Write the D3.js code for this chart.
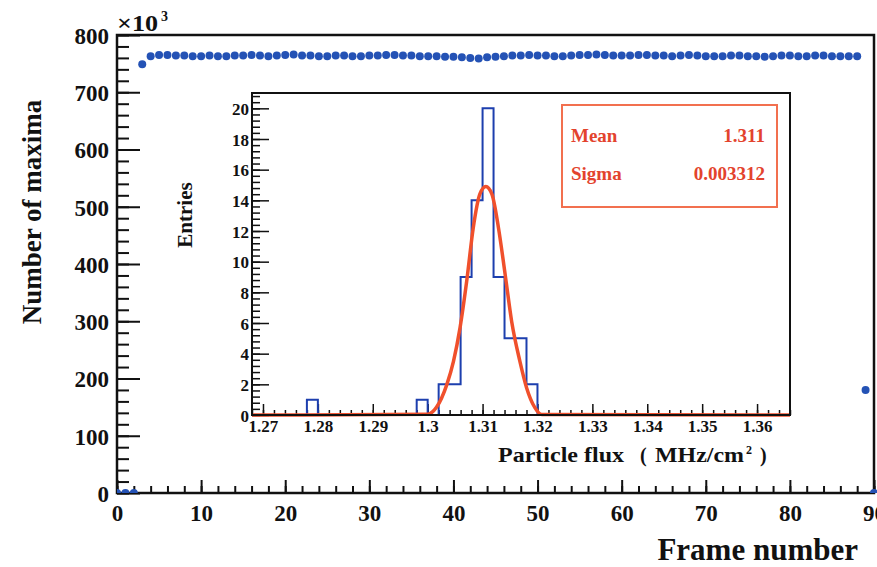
<!DOCTYPE html>
<html>
<head>
<meta charset="utf-8">
<script src="https://cdn.jsdelivr.net/npm/d3@7"></script>
<style>
  body { margin: 0; background: #fff; }
  svg text { font-family: "Liberation Serif", "Times New Roman", serif; font-weight: bold; fill: #111; }
</style>
</head>
<body>
<div id="chart"></div>
<script>
// Number of maxima per frame (x10^3), frames 0..90
var maxima = [0, 0, 0, 749,
    763, 765, 765, 764, 764, 763, 763, 764, 763, 763, 764, 764,
    765, 764, 763, 764, 765, 766, 764, 764, 763, 763, 764, 764,
    763, 763, 764, 764, 765, 765, 764, 764, 763, 763, 763, 762,
    762, 761, 760, 759, 761, 762, 763, 764, 764, 765, 764, 764,
    763, 763, 764, 765, 765, 766, 765, 764, 764, 764, 765, 765,
    764, 764, 763, 764, 765, 764, 763, 763, 763, 764, 764, 763,
    763, 762, 763, 764, 764, 763, 763, 764, 764, 763, 763, 763, 763,
    180, 0];
var mainXTicks = [0, 10, 20, 30, 40, 50, 60, 70, 80, 90];
var mainYTicks = [0, 100, 200, 300, 400, 500, 600, 700, 800];

// Inset histogram: particle flux (MHz/cm2)
var histLow = 1.268;
var histBinWidth = 0.002;
var entries = [0, 0, 0, 0, 0, 1, 0, 0, 0, 0, 0, 0, 0, 0, 0, 1, 0, 2, 2, 9,
    14, 20, 9, 5, 5, 2, 0, 0, 0, 0, 0, 0, 0, 0, 0, 0, 0, 0, 0, 0,
    0, 0, 0, 0, 0, 0, 0, 0, 0];
var insetXTicks = [1.27, 1.28, 1.29, 1.30, 1.31, 1.32, 1.33, 1.34, 1.35, 1.36];
var insetYTicks = [0, 2, 4, 6, 8, 10, 12, 14, 16, 18, 20];

// Gaussian fit curve
var fitX = [1.268, 1.300, 1.3016, 1.3035, 1.3047, 1.3059, 1.3071, 1.3083, 1.3095, 1.3106,
    1.3117, 1.3129, 1.3141, 1.3153, 1.3168, 1.3180, 1.3195, 1.3208, 1.366];
var fitY = [0, 0.05, 0.5, 2.0, 3.5, 5.7, 8.7, 12.2, 14.4, 14.9,
    14.4, 12.2, 9.2, 6.1, 3.5, 1.8, 0.5, 0.03, 0];

var statNames = ["Mean", "Sigma"];
var statValues = ["1.311", "0.003312"];

var svgWidth = 877;
var svgHeight = 567;

var svg = d3.select("#chart")
    .append("svg")
    .attr("width", svgWidth)
    .attr("height", svgHeight);

// ---------- main frame ----------
var main = { left: 117, right: 874, top: 35, bottom: 493 };

var x = d3.scaleLinear().domain([0, 90]).range([main.left, main.right]);
var y = d3.scaleLinear().domain([0, 800]).range([main.bottom, main.top]);

function minorTicks(lo, hi, step) {
    var out = [];
    for (var v = lo; v <= hi + 1e-9; v += step) out.push(+v.toFixed(6));
    return out;
}

// minor ticks
svg.append("g")
    .attr("transform", `translate(0, ${main.bottom})`)
    .call(d3.axisBottom(x).tickValues(minorTicks(0, 90, 2)).tickSize(-7).tickFormat(""))
    .call(g => g.select(".domain").remove())
    .selectAll("line").attr("stroke", "#111").attr("stroke-width", 2);

svg.append("g")
    .attr("transform", `translate(${main.left}, 0)`)
    .call(d3.axisLeft(y).tickValues(minorTicks(0, 800, 20)).tickSize(-12).tickFormat(""))
    .call(g => g.select(".domain").remove())
    .selectAll("line").attr("stroke", "#111").attr("stroke-width", 2);

// major ticks + labels
var xAxis = svg.append("g")
    .attr("transform", `translate(0, ${main.bottom})`)
    .call(d3.axisBottom(x).tickValues(mainXTicks).tickSize(-13).tickPadding(8).tickFormat(d3.format("d")));
xAxis.select(".domain").remove();
xAxis.selectAll("line").attr("stroke", "#111").attr("stroke-width", 2);
xAxis.selectAll("text").style("font-size", "23px").attr("dy", "0.85em");

var yAxis = svg.append("g")
    .attr("transform", `translate(${main.left}, 0)`)
    .call(d3.axisLeft(y).tickValues(mainYTicks).tickSize(-23).tickPadding(8).tickFormat(d3.format("d")));
yAxis.select(".domain").remove();
yAxis.selectAll("line").attr("stroke", "#111").attr("stroke-width", 2);
yAxis.selectAll("text").style("font-size", "23px").attr("dy", "0.36em");

svg.append("rect")
    .attr("x", main.left)
    .attr("y", main.top)
    .attr("width", main.right - main.left)
    .attr("height", main.bottom - main.top)
    .attr("fill", "none")
    .attr("stroke", "#111")
    .attr("stroke-width", 2.5);

// exponent label
var expo = svg.append("text")
    .attr("y", 31)
    .style("font-size", "23px");
expo.append("tspan")
    .attr("x", main.left)
    .attr("textLength", 41)
    .attr("lengthAdjust", "spacingAndGlyphs")
    .text("\u00d710");
expo.append("tspan")
    .attr("x", main.left + 44)
    .attr("dy", -10)
    .style("font-size", "14px")
    .text("3");

// axis titles
svg.append("text")
    .attr("transform", "translate(41, 212) rotate(-90)")
    .attr("text-anchor", "middle")
    .style("font-size", "27px")
    .text("Number of maxima");

svg.append("text")
    .attr("x", 858)
    .attr("y", 560)
    .attr("text-anchor", "end")
    .style("font-size", "31px")
    .text("Frame number");

// points
svg.append("clipPath").attr("id", "mainClip")
    .append("rect")
    .attr("x", main.left)
    .attr("y", main.top - 6)
    .attr("width", main.right - main.left + 3)
    .attr("height", main.bottom - main.top + 6);

svg.append("g")
    .attr("clip-path", "url(#mainClip)")
    .selectAll("circle")
    .data(maxima)
    .enter()
    .append("circle")
    .attr("cx", (d, i) => x(i))
    .attr("cy", d => y(d))
    .attr("r", 4)
    .attr("fill", "#2452b5");

// ---------- inset ----------
var inset = { left: 252, right: 790, top: 93, bottom: 415 };

var ix = d3.scaleLinear().domain([1.268, 1.366]).range([inset.left, inset.right]);
var iy = d3.scaleLinear().domain([0, 21]).range([inset.bottom, inset.top]);

svg.append("rect")
    .attr("x", inset.left)
    .attr("y", inset.top)
    .attr("width", inset.right - inset.left)
    .attr("height", inset.bottom - inset.top)
    .attr("fill", "#fff");

svg.append("g")
    .attr("transform", `translate(0, ${inset.bottom})`)
    .call(d3.axisBottom(ix).tickValues(minorTicks(1.268, 1.366, 0.002)).tickSize(-5).tickFormat(""))
    .call(g => g.select(".domain").remove())
    .selectAll("line").attr("stroke", "#111").attr("stroke-width", 1.5);

svg.append("g")
    .attr("transform", `translate(${inset.left}, 0)`)
    .call(d3.axisLeft(iy).tickValues(minorTicks(0, 20.8, 0.4)).tickSize(-8).tickFormat(""))
    .call(g => g.select(".domain").remove())
    .selectAll("line").attr("stroke", "#111").attr("stroke-width", 1.5);

var ixAxis = svg.append("g")
    .attr("transform", `translate(0, ${inset.bottom})`)
    .call(d3.axisBottom(ix).tickValues(insetXTicks).tickSize(-11).tickPadding(3).tickFormat(d3.format("~g")));
ixAxis.select(".domain").remove();
ixAxis.selectAll("line").attr("stroke", "#111").attr("stroke-width", 1.5);
ixAxis.selectAll("text").style("font-size", "17px").attr("dy", "0.8em");

var iyAxis = svg.append("g")
    .attr("transform", `translate(${inset.left}, 0)`)
    .call(d3.axisLeft(iy).tickValues(insetYTicks).tickSize(-17).tickPadding(3).tickFormat(d3.format("d")));
iyAxis.select(".domain").remove();
iyAxis.selectAll("line").attr("stroke", "#111").attr("stroke-width", 1.5);
iyAxis.selectAll("text").style("font-size", "17px").attr("dy", "0.36em");

// histogram outline
var histPoints = entries.map((d, i) => [histLow + i * histBinWidth, d]);
histPoints.push([histLow + entries.length * histBinWidth, entries[entries.length - 1]]);

svg.append("path")
    .datum(histPoints)
    .attr("fill", "none")
    .attr("stroke", "#1d3fae")
    .attr("stroke-width", 2)
    .attr("d", d3.line()
        .x(d => ix(d[0]))
        .y(d => iy(d[1]))
        .curve(d3.curveStepAfter));

// fit curve
svg.append("path")
    .datum(fitX.map((d, i) => [d, fitY[i]]))
    .attr("fill", "none")
    .attr("stroke", "#f0502c")
    .attr("stroke-width", 3.5)
    .attr("d", d3.line()
        .x(d => ix(d[0]))
        .y(d => iy(d[1]))
        .curve(d3.curveMonotoneX));

svg.append("rect")
    .attr("x", inset.left)
    .attr("y", inset.top)
    .attr("width", inset.right - inset.left)
    .attr("height", inset.bottom - inset.top)
    .attr("fill", "none")
    .attr("stroke", "#111")
    .attr("stroke-width", 2);

// inset titles
svg.append("text")
    .attr("transform", "translate(192, 215) rotate(-90)")
    .attr("text-anchor", "middle")
    .style("font-size", "21px")
    .text("Entries");

var xt = svg.append("text")
    .attr("y", 462)
    .style("font-size", "20px");
xt.append("tspan").attr("x", 498)
    .attr("textLength", 126).attr("lengthAdjust", "spacingAndGlyphs")
    .text("Particle flux");
xt.append("tspan").attr("x", 640).text("(");
xt.append("tspan").attr("x", 655)
    .attr("textLength", 89).attr("lengthAdjust", "spacingAndGlyphs")
    .text("MHz/cm");
xt.append("tspan").attr("x", 746).attr("dy", -8).style("font-size", "12px").text("2");
xt.append("tspan").attr("x", 760).attr("dy", 8).text(")");

// stats box
svg.append("rect")
    .attr("x", 562)
    .attr("y", 105)
    .attr("width", 215)
    .attr("height", 102)
    .attr("fill", "#fff")
    .attr("stroke", "#f2704f")
    .attr("stroke-width", 2);

var statY = d3.scalePoint().domain(statNames).range([142, 180]);

svg.selectAll(".statName")
    .data(statNames)
    .enter()
    .append("text")
    .attr("x", 571)
    .attr("y", d => statY(d))
    .style("font-size", "19px")
    .style("fill", "#e3432d")
    .text(d => d);

svg.selectAll(".statValue")
    .data(statValues)
    .enter()
    .append("text")
    .attr("x", 765)
    .attr("y", (d, i) => statY(statNames[i]))
    .attr("text-anchor", "end")
    .style("font-size", "19px")
    .style("fill", "#e3432d")
    .text(d => d);
</script>
</body>
</html>
